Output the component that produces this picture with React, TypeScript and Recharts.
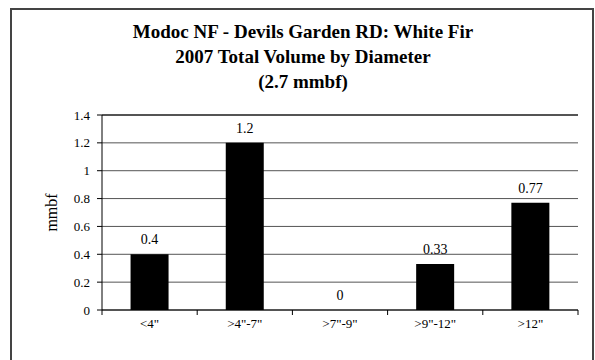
import { ComposedChart, Bar, Line, XAxis, YAxis, CartesianGrid, LabelList, ReferenceLine } from "recharts";

const categories = ['<4"', '>4"-7"', '>7"-9"', '>9"-12"', '>12"'];
const volumes = [0.4, 1.2, 0, 0.33, 0.77];
const yTicks = [0, 0.2, 0.4, 0.6, 0.8, 1, 1.2, 1.4];
const titleLines = [
  "Modoc NF - Devils Garden RD: White Fir",
  "2007 Total Volume by Diameter",
  "(2.7 mmbf)",
];

const data = categories.map((diameter, i) => ({ diameter, mmbf: volumes[i] }));

const FONT = '"Liberation Serif", "Times New Roman", serif';
const W = 595;
const H = 360;
const PLOT_LEFT = 102;
const PLOT_RIGHT = 578;
const BAND = (PLOT_RIGHT - PLOT_LEFT) / categories.length;

function XTick(props: any) {
  const { x, y, payload, index } = props;
  const top = y - 8;
  return (
    <g>
      {index === 0 && (
        <line x1={x - BAND / 2} x2={x - BAND / 2} y1={top} y2={top + 5} stroke="#000" />
      )}
      <line x1={x + BAND / 2} x2={x + BAND / 2} y1={top} y2={top + 5} stroke="#000" />
      <text x={x} y={top + 18} textAnchor="middle" fontFamily={FONT} fontSize={13} fill="#000">
        {payload.value}
      </text>
    </g>
  );
}

export default function App() {
  return (
    <div style={{ position: "absolute", left: 0, top: 0, width: W, height: H, overflow: "hidden", background: "#fff" }}>
      <div
        style={{
          position: "absolute",
          left: 10,
          top: 8,
          width: 580,
          height: 380,
          border: "2px solid #444",
        }}
      />
      <div
        style={{
          position: "absolute",
          left: 10,
          top: 19,
          width: 586,
          textAlign: "center",
          fontFamily: FONT,
          fontWeight: "bold",
          fontSize: 19,
          lineHeight: "25px",
          color: "#000",
        }}
      >
        {titleLines.map((t) => (
          <div key={t}>{t}</div>
        ))}
      </div>
      <div style={{ position: "absolute", left: 0, top: 0 }}>
        <ComposedChart
          width={W}
          height={H}
          data={data}
          margin={{ top: 115, right: W - PLOT_RIGHT, left: 42, bottom: 20 }}
          barCategoryGap="30%"
        >
          <CartesianGrid vertical={false} stroke="#555" />
          <XAxis
            dataKey="diameter"
            height={30}
            axisLine={{ stroke: "#000" }}
            tickLine={false}
            tick={<XTick />}
            interval={0}
          />
          <YAxis
            width={60}
            domain={[0, 1.4]}
            ticks={yTicks}
            interval={0}
            axisLine={{ stroke: "#000" }}
            tickLine={{ stroke: "#000" }}
            tickSize={5}
            tickMargin={7}
            tick={{ fill: "#000", fontFamily: FONT, fontSize: 13 }}
            label={{
              value: "mmbf",
              angle: -90,
              position: "insideLeft",
              offset: 0,
              dx: 9,
              style: { fill: "#000", fontFamily: FONT, fontSize: 16, textAnchor: "middle" },
            }}
          />
          <YAxis
            yAxisId="right"
            orientation="right"
            width={0}
            domain={[0, 1.4]}
            tick={false}
            tickLine={false}
            axisLine={{ stroke: "#000" }}
          />
          <ReferenceLine y={1.4} stroke="#000" />
          <Bar dataKey="mmbf" fill="#000" isAnimationActive={false} />
          <Line
            dataKey="mmbf"
            stroke="none"
            dot={false}
            activeDot={false}
            isAnimationActive={false}
          >
            <LabelList
              dataKey="mmbf"
              position="top"
              offset={10}
              style={{ fill: "#000", fontFamily: FONT, fontSize: 14 }}
            />
          </Line>
        </ComposedChart>
      </div>
    </div>
  );
}
